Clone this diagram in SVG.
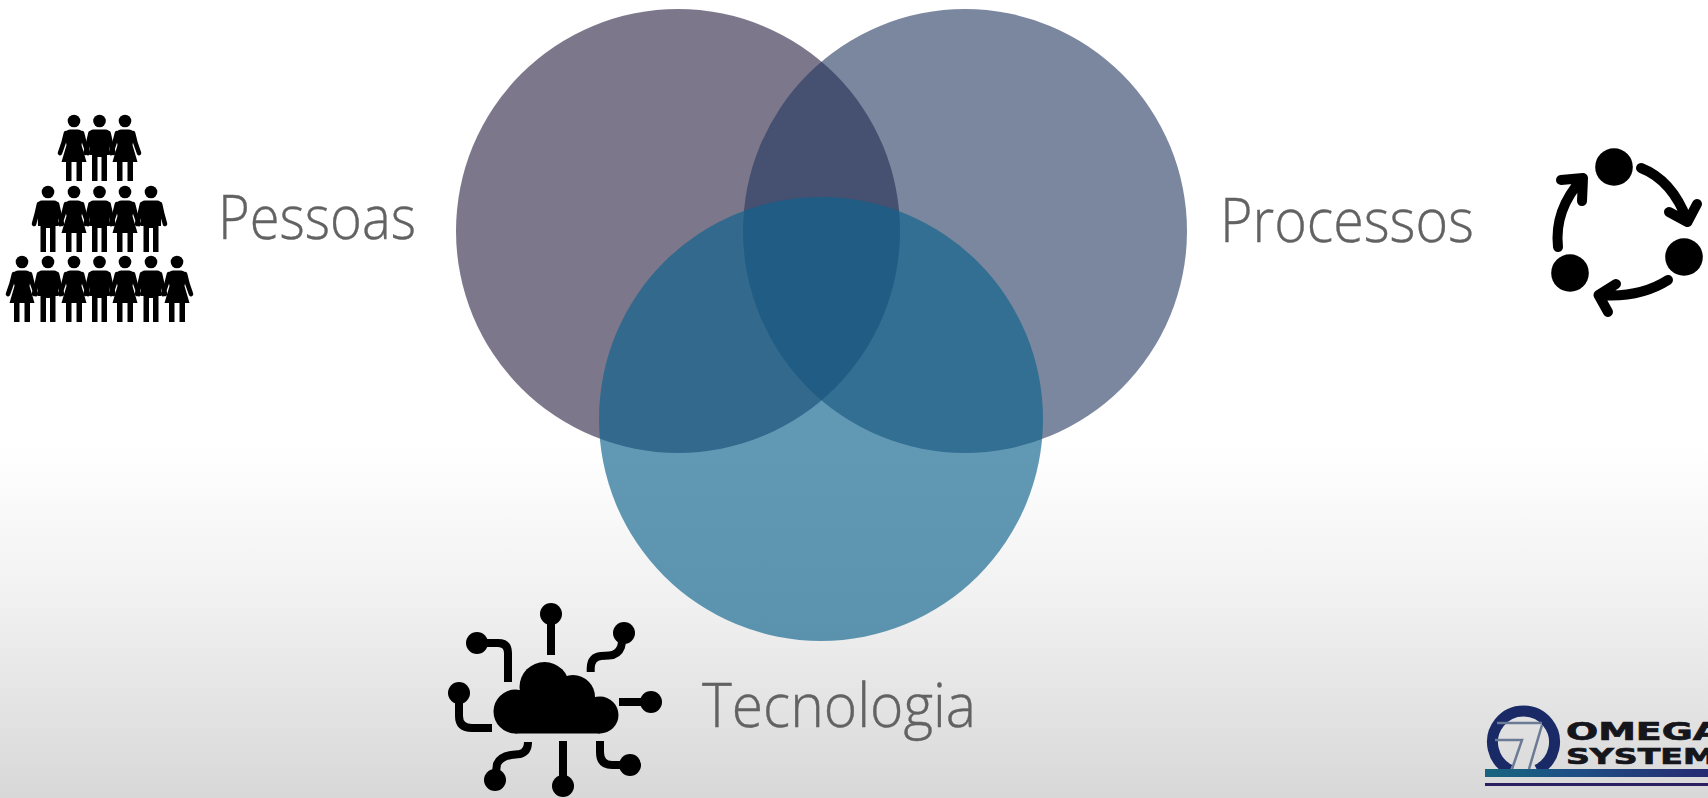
<svg xmlns="http://www.w3.org/2000/svg" width="1708" height="798" viewBox="0 0 1708 798">
<style>
.lbl{font-family:"Open Sans","Noto Sans","Liberation Sans",sans-serif;font-weight:300;font-size:60px;fill:#626262;stroke:#626262;stroke-width:.4}
.ln{fill:none;stroke:#000;stroke-width:8;stroke-linejoin:round}
.ar{fill:none;stroke:#000;stroke-width:10;stroke-linecap:round;stroke-linejoin:round}
.logo{font-family:"DejaVu Sans","Liberation Sans",sans-serif;font-weight:700;fill:#15151c;stroke:#15151c;stroke-width:.7}
.arm{fill:none;stroke:#000;stroke-width:4.6;stroke-linecap:round;stroke-linejoin:round}
</style>
<defs>
<linearGradient id="bg" x1="0" y1="0" x2="0" y2="1">
<stop offset="0.56" stop-color="#ffffff"/><stop offset="0.75" stop-color="#f1f1f1"/><stop offset="1" stop-color="#d8d8d8"/>
</linearGradient>
<linearGradient id="band" x1="0" y1="0" x2="1" y2="0">
<stop offset="0" stop-color="#17657f"/><stop offset="0.4" stop-color="#1e4f86"/><stop offset="1" stop-color="#262b72"/>
</linearGradient>
<g id="m">
<circle cx="0" cy="0" r="6.300"/>
<path d="M-6 8.500H6Q10 8.500 10.500 13L10 34H7.500V60H2V36H-2V60H-7.500V34H-10L-10.500 13Q-10 8.500-6 8.500Z"/>
<path class="arm" d="M-9 12Q-11 22-14 32M9 12Q11 22 14 32"/>
</g>
<g id="f">
<circle cx="0" cy="0" r="6.300"/>
<path d="M-4 8.500H4Q9 9 9.500 14L7.500 24L12.500 41H8V60H2.500V41H-2.500V60H-8V41H-12.500L-7.500 24L-9.500 14Q-9 9-4 8.500Z"/>
<path class="arm" d="M-8 12Q-10 22-14 32M8 12Q10 22 14 32"/>
</g>
</defs>
<rect width="1708" height="798" fill="url(#bg)"/>
<g id="circle-pessoas"><circle cx="678" cy="231" r="222" fill="#4f4763" fill-opacity="0.74"/></g>
<g id="circle-processos"><circle cx="965" cy="231" r="222" fill="#21375f" fill-opacity="0.6"/></g>
<g id="circle-tecnologia"><circle cx="821" cy="419" r="222" fill="#0c628d" fill-opacity="0.65"/></g>

<g id="pessoas">
<text class="lbl" x="218" y="239" textLength="198" lengthAdjust="spacingAndGlyphs">Pessoas</text>
<g id="people-icon">
<use href="#f" x="74" y="121"/><use href="#m" x="99.500" y="121"/><use href="#f" x="125" y="121"/>
<use href="#m" x="48" y="192"/><use href="#f" x="74" y="192"/><use href="#m" x="99.500" y="192"/><use href="#f" x="125" y="192"/><use href="#m" x="151" y="192"/>
<use href="#f" x="22" y="262"/><use href="#m" x="48" y="262"/><use href="#f" x="74" y="262"/><use href="#m" x="99.500" y="262"/><use href="#f" x="125" y="262"/><use href="#m" x="151" y="262"/><use href="#f" x="177" y="262"/>
</g>
</g>

<g id="processos">
<text class="lbl" x="1220" y="242" textLength="254" lengthAdjust="spacingAndGlyphs">Processos</text>
<g id="cycle-icon">
<circle cx="1614" cy="167" r="18.800"/><circle cx="1684" cy="257" r="18.800"/><circle cx="1570" cy="273" r="18.800"/>
<path class="ar" d="M1641 168Q1672 180 1687 220M1669 212L1687.500 222L1697 204"/>
<path class="ar" d="M1668 280Q1640 298 1600 295M1616 284L1598.500 295L1608 312"/>
<path class="ar" d="M1558 247Q1554 210 1582 179M1561 180L1583 178L1582 201"/>
</g>
</g>

<g id="tecnologia">
<text class="lbl" x="702" y="727" textLength="274" lengthAdjust="spacingAndGlyphs">Tecnologia</text>
<g id="cloud-icon">
<circle cx="515.500" cy="711.500" r="22"/><circle cx="544.500" cy="687" r="25"/><circle cx="573" cy="697" r="22"/><circle cx="600" cy="715" r="18.500"/>
<rect x="515" y="697" width="85" height="36.500"/>
<circle cx="551" cy="614" r="11"/><path class="ln" d="M551 614V655"/>
<circle cx="624" cy="633" r="11"/><path class="ln" d="M624 633L621 647Q618 655 609 655.500L601 656Q591 657 590.700 668V672"/>
<circle cx="477" cy="643" r="11"/><path class="ln" d="M477 643H498Q508 643 508 653V682"/>
<circle cx="459" cy="693" r="11"/><path class="ln" d="M459 693V716Q459 728 472 728H492"/>
<circle cx="651" cy="702" r="11"/><path class="ln" d="M651 702H619"/>
<circle cx="495" cy="780" r="11"/><path class="ln" d="M495 780L497 764Q500 757 511 755L520 754Q528 752 528 742"/>
<circle cx="563" cy="786" r="11"/><path class="ln" d="M563 786V741"/>
<circle cx="630" cy="765" r="11"/><path class="ln" d="M630 765H612Q600 765 600 752V741"/>
</g>
</g>

<g id="logo">
<path d="M1510 770A31 31 0 1 1 1537 770" fill="none" stroke="#1a2a66" stroke-width="11"/>
<path d="M1497 723H1542M1495 740H1522L1512 769M1542 725L1529 769" fill="none" stroke="#6b7a95" stroke-width="2.500"/>
<rect x="1485" y="769" width="223" height="8" fill="url(#band)"/>
<rect x="1485" y="783" width="223" height="3" fill="#2a2060"/>
<text class="logo" x="1566" y="740" font-size="25" textLength="156" lengthAdjust="spacingAndGlyphs">OMEGA</text>
<text class="logo" x="1566" y="764" font-size="21.500" textLength="150" lengthAdjust="spacingAndGlyphs">SYSTEM</text>
</g>
</svg>
